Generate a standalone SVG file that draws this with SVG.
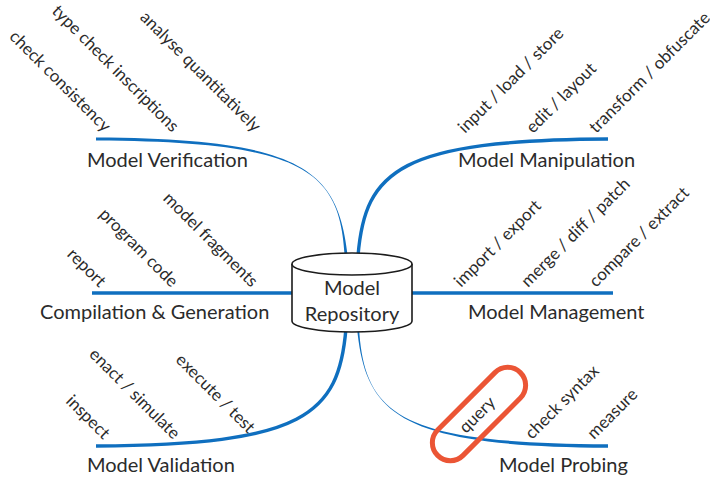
<svg xmlns="http://www.w3.org/2000/svg" width="710" height="477" viewBox="0 0 710 477">
  <style>
    text { font-family: Lato, "Open Sans", "Liberation Sans", sans-serif; fill: #2b2b2b; }
    .title { font-size: 20px; }
    .task { font-size: 17px; }
    .left { text-anchor: end; }
    .right { text-anchor: start; }
    .branch { fill: none; stroke: #0f6fbf; stroke-width: 3.4; }
    .taper { fill: #0f6fbf; stroke: none; }
    .repo { fill: #ffffff; stroke: #1c1c1c; stroke-width: 1.6; }
    .mark { fill: none; stroke: #eb5535; stroke-width: 5; }
  </style>

  <!-- branches from the repository to each area -->
  <g id="connectors">
    <!-- Model Verification (tapered) -->
    <path class="taper" d="M96,140.5 C304,141.5 340,169.9 344.8,256.1 L347.8,255.9 C338,170.1 304,138.5 96,137.5 Z"/>
    <!-- Model Manipulation -->
    <path class="branch" d="M358,256 C365,170 400,140 608,139"/>
    <!-- Compilation & Generation -->
    <line class="branch" x1="92" y1="293" x2="296" y2="293" stroke-width="3"/>
    <!-- Model Management -->
    <line class="branch" x1="408" y1="293" x2="613" y2="293" stroke-width="3"/>
    <!-- Model Validation -->
    <path class="branch" d="M96,446 C304,445 339,415 346,328"/>
    <!-- Model Probing (tapered) -->
    <path class="taper" d="M357,328.1 C365.6,414.95 400,446.5 608,447.75 L608,444.25 C400,443.5 364.4,415.05 359,327.9 Z"/>
  </g>

  <!-- central store -->
  <g id="repository">
    <path class="repo" d="M292,264 L292,321 A60,11 0 0 0 412,321 L412,264"/>
    <ellipse class="repo" cx="352" cy="264" rx="60" ry="11"/>
    <text class="title" x="352" y="295" text-anchor="middle">Model</text>
    <text class="title" x="352" y="321" text-anchor="middle">Repository</text>
  </g>

  <g id="model-verification">
    <text class="title" x="87" y="167">Model Verification</text>
    <text class="task left" transform="translate(104,133) rotate(45)">check consistency</text>
    <text class="task left" transform="translate(172,133) rotate(45)">type check inscriptions</text>
    <text class="task left" transform="translate(254,133) rotate(45)">analyse quantitatively</text>
  </g>

  <g id="model-manipulation">
    <text class="title" x="458" y="167">Model Manipulation</text>
    <text class="task right" transform="translate(465,134) rotate(-45)">input / load / store</text>
    <text class="task right" transform="translate(533,134) rotate(-45)">edit / layout</text>
    <text class="task right" transform="translate(596,134) rotate(-45)" font-size="15.8">transform / obfuscate</text>
  </g>

  <g id="compilation-generation">
    <text class="title" x="40" y="319">Compilation &amp; Generation</text>
    <text class="task left" transform="translate(99,288) rotate(45)">report</text>
    <text class="task left" transform="translate(171,288) rotate(45)">program code</text>
    <text class="task left" transform="translate(251,288) rotate(45)">model fragments</text>
  </g>

  <g id="model-management">
    <text class="title" x="468" y="319">Model Management</text>
    <text class="task right" transform="translate(461,288) rotate(-45)">import / export</text>
    <text class="task right" transform="translate(528,288) rotate(-45)">merge / diff / patch</text>
    <text class="task right" transform="translate(596,288) rotate(-45)">compare / extract</text>
  </g>

  <g id="model-validation">
    <text class="title" x="87" y="472">Model Validation</text>
    <text class="task left" transform="translate(103,440) rotate(45)">inspect</text>
    <text class="task left" transform="translate(173,440) rotate(45)">enact / simulate</text>
    <text class="task left" transform="translate(248,434) rotate(45)">execute / test</text>
  </g>

  <g id="model-probing">
    <text class="title" x="499" y="472">Model Probing</text>
    <text class="task right" transform="translate(466,434) rotate(-45)">query</text>
    <text class="task right" transform="translate(532,440) rotate(-45)">check syntax</text>
    <text class="task right" transform="translate(594,440) rotate(-45)">measure</text>
    <!-- highlight ring around the query task -->
    <rect class="mark" x="-58.5" y="-18" width="117" height="36" rx="18" transform="translate(479,414) rotate(-45)"/>
  </g>
</svg>
